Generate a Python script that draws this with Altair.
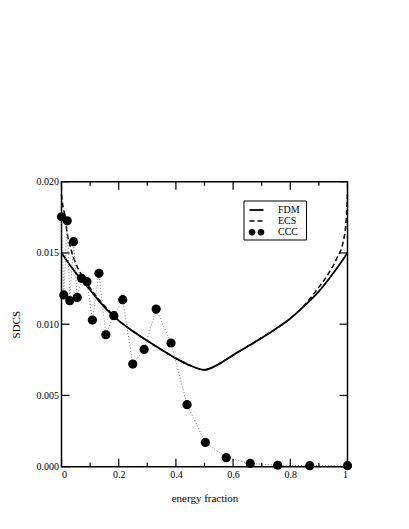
import altair as alt
import pandas as pd

# ---- data ----
fdm_x = [0.0, 0.05, 0.1, 0.15, 0.2, 0.25, 0.3, 0.35, 0.4, 0.45, 0.5,
         0.55, 0.6, 0.65, 0.7, 0.75, 0.8, 0.85, 0.9, 0.95, 1.0]
fdm_y = [0.0150, 0.0136, 0.0124, 0.0112, 0.01025, 0.0095, 0.00883, 0.0082, 0.0076, 0.0071, 0.0068,
         0.0072, 0.00783, 0.00843, 0.00904, 0.00968, 0.0104, 0.0113, 0.0123, 0.01357, 0.0150]

ecs_x = [0.0, 0.004, 0.011, 0.017, 0.034, 0.058, 0.085, 0.12, 0.15, 0.2, 0.25, 0.3, 0.35, 0.4, 0.45,
         0.5, 0.55, 0.6, 0.65, 0.7, 0.75, 0.8, 0.85, 0.875, 0.9, 0.927, 0.962, 0.985, 0.995, 1.0]
ecs_y = [0.0191, 0.0184, 0.0177, 0.01675, 0.0152, 0.0139, 0.0130, 0.0120, 0.0113, 0.01025, 0.0095,
         0.00883, 0.0082, 0.0076, 0.0071, 0.0068, 0.0072, 0.00783, 0.00843, 0.00904, 0.00968, 0.0104,
         0.01135, 0.01195, 0.0126, 0.01335, 0.0146, 0.0158, 0.0172, 0.0192]

ccc_x = [0.0, 0.008, 0.020, 0.029, 0.042, 0.055, 0.070, 0.089, 0.108, 0.131, 0.155, 0.183,
         0.214, 0.249, 0.289, 0.331, 0.383, 0.439, 0.503, 0.576, 0.660, 0.756, 0.868, 1.0]
ccc_y = [0.01754, 0.01205, 0.01726, 0.01165, 0.01579, 0.01188, 0.01322, 0.01298, 0.01029, 0.01357,
         0.00926, 0.0106, 0.01172, 0.0072, 0.00823, 0.01106, 0.00868, 0.00435, 0.00170, 0.00063,
         0.00023, 0.00010, 0.00007, 0.00007]

x_major = [0.0, 0.2, 0.4, 0.6, 0.8, 1.0]
x_minor = [0.1, 0.3, 0.5, 0.7, 0.9]
y_major = [0.0, 0.005, 0.010, 0.015, 0.020]
legend_labels = ["FDM", "ECS", "CCC"]

W, H = 286, 285
FONT = "Liberation Serif"

xscale = alt.Scale(domain=[0, 1], nice=False, zero=False)
yscale = alt.Scale(domain=[0, 0.02], nice=False, zero=False)
xaxis = alt.Axis(values=x_major, format="~g", ticks=False, domain=False, grid=False,
                 labelFont=FONT, labelFontSize=10, labelColor="black", labelPadding=3,
                 title="energy fraction", titleFont=FONT, titleFontSize=11,
                 titleFontWeight="normal", titleColor="black", titlePadding=13)
yaxis = alt.Axis(values=y_major, format=".3f", ticks=False, domain=False, grid=False,
                 labelFont=FONT, labelFontSize=10, labelColor="black", labelPadding=3,
                 title="SDCS", titleFont=FONT, titleFontSize=11,
                 titleFontWeight="normal", titleColor="black", titlePadding=15)


def X(f):
    return alt.X(f, type="quantitative", scale=xscale, axis=xaxis)


def Y(f):
    return alt.Y(f, type="quantitative", scale=yscale, axis=yaxis)


fdm_df = pd.DataFrame({"x": fdm_x, "y": fdm_y})
ecs_df = pd.DataFrame({"x": ecs_x, "y": ecs_y})
ccc_df = pd.DataFrame({"x": ccc_x, "y": ccc_y})
xmaj_df = pd.DataFrame({"x": x_major})
xmin_df = pd.DataFrame({"x": x_minor})
ymaj_df = pd.DataFrame({"y": y_major})

fdm = alt.Chart(fdm_df).mark_line(color="black", strokeWidth=1.8, interpolate="monotone").encode(
    x=X("x"), y=Y("y"))
ecs = alt.Chart(ecs_df).mark_line(color="black", strokeWidth=1.5, strokeDash=[5, 3],
                                  interpolate="monotone").encode(x=X("x"), y=Y("y"))
ccc_line = alt.Chart(ccc_df).mark_line(color="#777777", strokeWidth=1, strokeDash=[1, 2]).encode(
    x=X("x"), y=Y("y"))
ccc_pts = alt.Chart(ccc_df).mark_circle(color="black", opacity=1, size=85).encode(
    x=X("x"), y=Y("y"))

tick_layers = []
for df, ln in [(xmaj_df, 8), (xmin_df, 4)]:
    tick_layers.append(alt.Chart(df).mark_rule(color="black", strokeWidth=1.2).encode(
        x=X("x"), y=alt.value(H), y2=alt.value(H - ln)))
    tick_layers.append(alt.Chart(df).mark_rule(color="black", strokeWidth=1.2).encode(
        x=X("x"), y=alt.value(0), y2=alt.value(ln)))
tick_layers.append(alt.Chart(ymaj_df).mark_rule(color="black", strokeWidth=1.2).encode(
    y=Y("y"), x=alt.value(0), x2=alt.value(8)))
tick_layers.append(alt.Chart(ymaj_df).mark_rule(color="black", strokeWidth=1.2).encode(
    y=Y("y"), x=alt.value(W), x2=alt.value(W - 8)))

# ---- legend ----
row_y = [28.3, 39.3, 50.6]
one = alt.Data(values=[{"a": 1}])
leg = [alt.Chart(one).mark_rect(fill="white", stroke="black", strokeWidth=1).encode(
    x=alt.value(182.5), x2=alt.value(245), y=alt.value(19.3), y2=alt.value(58.3))]
leg.append(alt.Chart(one).mark_rule(color="black", strokeWidth=1.8).encode(
    x=alt.value(188), x2=alt.value(202), y=alt.value(row_y[0])))
leg.append(alt.Chart(one).mark_rule(color="black", strokeWidth=1.5, strokeDash=[5, 3]).encode(
    x=alt.value(188), x2=alt.value(202), y=alt.value(row_y[1])))
leg.append(alt.Chart(one).mark_rule(color="#777777", strokeWidth=1, strokeDash=[1, 2]).encode(
    x=alt.value(190), x2=alt.value(199.5), y=alt.value(row_y[2])))
for cx in [190.5, 199.5]:
    leg.append(alt.Chart(one).mark_circle(color="black", opacity=1, size=42).encode(
        x=alt.value(cx), y=alt.value(row_y[2])))
for lab, ry in zip(legend_labels, row_y):
    leg.append(alt.Chart(alt.Data(values=[{"label": lab}])).mark_text(
        font=FONT, fontSize=10, color="black", align="left", baseline="middle").encode(
        x=alt.value(216.5), y=alt.value(ry), text="label:N"))

chart = alt.layer(fdm, ecs, ccc_line, ccc_pts, *tick_layers, *leg).properties(
    width=W, height=H,
    autosize=alt.AutoSizeParams(type="none"),
    padding={"left": 53.5, "top": 173.7, "right": 53, "bottom": 54},
).configure_view(stroke="black", strokeWidth=1.5)

chart.save("out.html", embed_options={"renderer": "svg", "actions": False})
